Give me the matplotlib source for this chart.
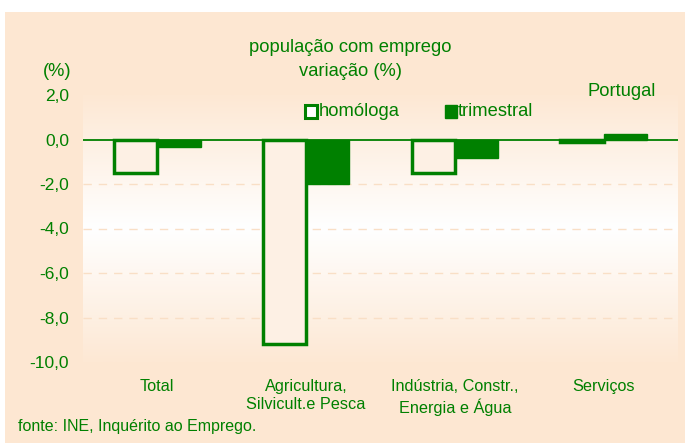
import numpy as np
import matplotlib.pyplot as plt
from matplotlib.patches import Rectangle

plt.rcParams['font.family'] = ['Liberation Sans', 'DejaVu Sans']

categorias = ['Total', 'Agricultura,\nSilvicult.e Pesca', 'Indústria, Constr.,\nEnergia e Água', 'Serviços']
homologa = [-1.5, -9.2, -1.5, -0.1]
trimestral = [-0.35, -2.0, -0.85, 0.25]
yticks = [2, 0, -2, -4, -6, -8, -10]
ytick_labels = ['2,0', '0,0', '-2,0', '-4,0', '-6,0', '-8,0', '-10,0']

verde = '#008000'
pessego = '#fde7d2'

W, H = 685, 443
fig = plt.figure(figsize=(W / 100, H / 100), dpi=100)
fig.patch.set_facecolor('white')
fig.patches.append(Rectangle((5 / W, 0), 1, 1 - 12 / H, transform=fig.transFigure,
                             facecolor=pessego, edgecolor='none', zorder=-5))

# plot area in pixels: x 83..678, y 95..362
ax = fig.add_axes([83 / W, 1 - 362 / H, (678 - 83) / W, (362 - 95) / H])
ax.set_zorder(1)
ax.patch.set_alpha(0)
ax.set_xlim(-0.5, 3.5)
ax.set_ylim(-10, 2)

# gradient background: peach - white - peach
t = np.linspace(0, 1, 256)
w = np.abs(t - 0.5) * 2
c0 = np.array([1.0, 1.0, 1.0])
c1 = np.array([253, 232, 212]) / 255
grad = (c0[None, :] * (1 - w[:, None]) + c1[None, :] * w[:, None])[:, None, :]
ax.imshow(grad, extent=[-0.5, 3.5, -10, 2], aspect='auto', zorder=0)

for y in [-2, -4, -6, -8]:
    ax.axhline(y, color='#f9dfc6', lw=1, ls=(0, (6, 5)), zorder=1)

x = np.arange(len(categorias))
bw = 0.29
ax.bar(x - bw / 2, homologa, bw, facecolor='#fdf0e4', edgecolor=verde, lw=2.5, zorder=3)
ax.bar(x + bw / 2, trimestral, bw, facecolor=verde, edgecolor=verde, lw=1, zorder=3)
ax.axhline(0, color=verde, lw=1.3, zorder=4)

for s in ax.spines.values():
    s.set_visible(False)
ax.set_xticks(x)
ax.set_xticklabels(categorias, color=verde, fontsize=11.7, linespacing=1.3)
ax.set_yticks(yticks)
ax.set_yticklabels(ytick_labels, color=verde, fontsize=12.5)
ax.tick_params(length=0, axis='x', pad=12)
ax.tick_params(length=0, axis='y', pad=10)

fs = 13.2
fig.text(350 / W, 1 - 47 / H, 'população com emprego', color=verde, fontsize=fs,
         ha='center', va='center')
fig.text(350 / W, 1 - 71 / H, 'variação (%)', color=verde, fontsize=fs,
         ha='center', va='center')
fig.text(57 / W, 1 - 71 / H, '(%)', color=verde, fontsize=fs, ha='center', va='center')
fig.text(622 / W, 1 - 91 / H, 'Portugal', color=verde, fontsize=fs, ha='center', va='center')

# legend
fig.patches.append(Rectangle((305 / W, 1 - 118 / H), 12 / W, 13 / H, transform=fig.transFigure,
                             facecolor='white', edgecolor=verde, lw=2.2, zorder=5))
fig.text(319 / W, 1 - 111 / H, 'homóloga', color=verde, fontsize=fs, ha='left', va='center')
fig.patches.append(Rectangle((445 / W, 1 - 118 / H), 12 / W, 13 / H, transform=fig.transFigure,
                             facecolor=verde, edgecolor=verde, lw=1, zorder=5))
fig.text(458 / W, 1 - 111 / H, 'trimestral', color=verde, fontsize=fs, ha='left', va='center')

fig.text(18 / W, 1 - 426 / H, 'fonte: INE, Inquérito ao Emprego.', color=verde, fontsize=11.5,
         ha='left', va='center')

fig.savefig('out.png', dpi=100, facecolor=fig.get_facecolor())
